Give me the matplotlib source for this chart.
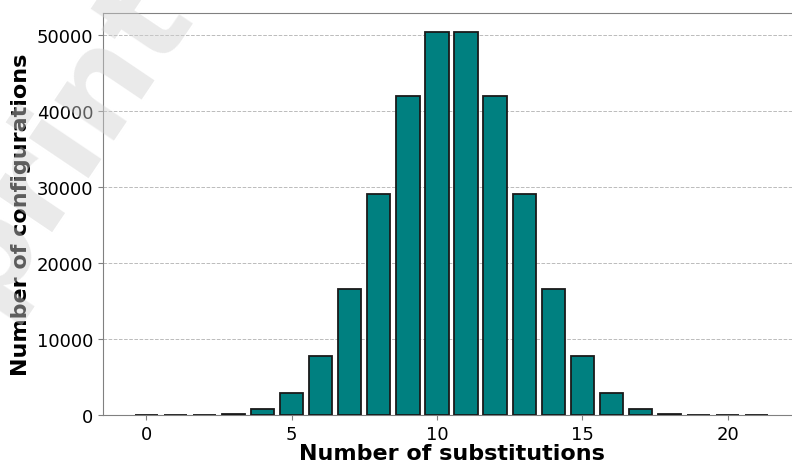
import matplotlib
matplotlib.use('Agg')
import matplotlib.pyplot as plt

# число замещений и количество конфигураций
substitutions = list(range(22))
configurations = [1, 3, 30, 190, 855, 2907, 7752, 16611, 29070, 41990, 50388,
                  50388, 41990, 29070, 16611, 7752, 2907, 855, 190, 30, 3, 1]

fig = plt.figure(figsize=(7.92, 4.64), dpi=100)
ax = fig.add_axes([103 / 792, 48 / 464, 697 / 792, 402 / 464])

ax.bar(substitutions, configurations, width=0.8, color='#008080',
       edgecolor='#1a1a1a', linewidth=1.3, zorder=3)

ax.grid(axis='y', linestyle='--', color='#bbbbbb', linewidth=0.7, zorder=0)
ax.set_axisbelow(True)

for s in ax.spines.values():
    s.set_color('#808080')
ax.tick_params(labelsize=13, color='#808080')

ax.set_xlabel('Number of substitutions', fontsize=16, fontweight='bold', labelpad=0)
ax.set_ylabel('Number of configurations', fontsize=16, fontweight='bold')

# водяной знак поверх всего
fig.text(192 / 792, 1 - 8 / 464, 'Preprint', fontsize=95, fontweight='bold',
         color='#d0d0d0', alpha=0.45, rotation=56, rotation_mode='anchor',
         ha='right', va='baseline', zorder=10)

fig.savefig('out.png', dpi=100)
